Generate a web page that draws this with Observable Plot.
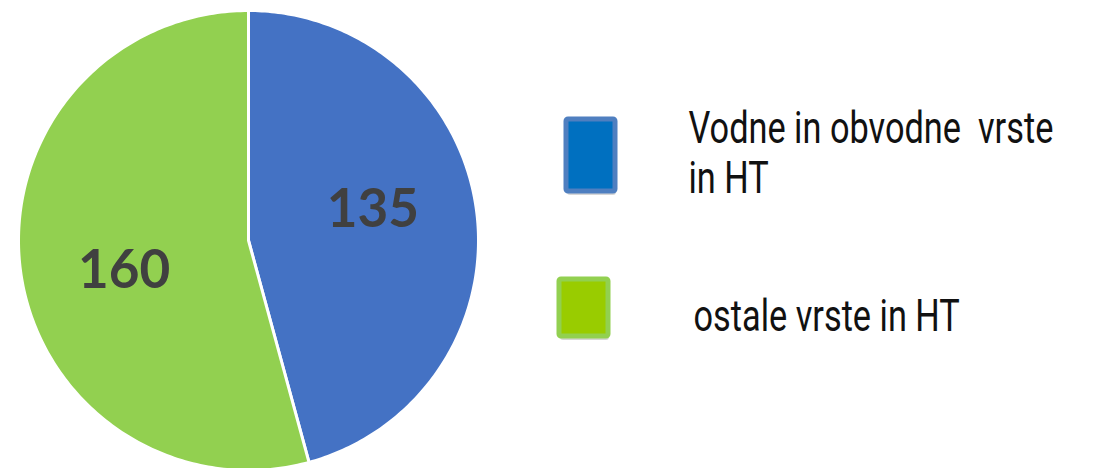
<!DOCTYPE html>
<html>
<head>
<meta charset="utf-8">
<script src="https://cdn.jsdelivr.net/npm/d3@7"></script>
<script src="https://cdn.jsdelivr.net/npm/@observablehq/plot@0.6"></script>
<style>
  html, body { margin: 0; padding: 0; background: #fff; }
  #chart svg text { white-space: pre; }
</style>
</head>
<body>
<div id="chart"></div>
<script>
// ---- data ----
const categories = ["Vodne in obvodne  vrste in HT", "ostale vrste in HT"];
const values = [135, 160];
const legendLines = [["Vodne in obvodne  vrste", "in HT"], ["ostale vrste in HT"]];

// ---- styles / layout ----
const sliceColors = ["#4472C4", "#92D050"];
const swatchStroke = ["#4F7FC0", "#92D050"];
const swatchFill = ["#0070C0", "#99CC00"];
const W = 1094, H = 468;
const cx = 248, cy = 240, R = 230;
const labelR = 0.556 * R, labelAngleShift = -6 * Math.PI / 180;

// pie geometry via d3.pie (start at 12 o'clock, clockwise, data order)
const arcs = d3.pie().sort(null).value(d => d.value)(categories.map((c, i) => ({category: c, value: values[i]})));
const slicePts = [];
arcs.forEach(a => {
  const n = 200;
  slicePts.push({category: a.data.category, x: cx, y: cy});
  for (let k = 0; k <= n; k++) {
    const t = a.startAngle + (a.endAngle - a.startAngle) * k / n;
    slicePts.push({category: a.data.category, x: cx + R * Math.sin(t), y: cy - R * Math.cos(t)});
  }
  slicePts.push({category: a.data.category, x: cx, y: cy});
});
const labels = arcs.map(a => {
  const m = (a.startAngle + a.endAngle) / 2 + labelAngleShift;
  return {label: String(a.data.value), x: cx + labelR * Math.sin(m), y: cy - labelR * Math.cos(m)};
});

// legend layout
const legendRows = [
  {category: categories[0], i: 0, x1: 566, x2: 615, y1: 119, y2: 191, tx: 688, ty: 142, lines: legendLines[0]},
  {category: categories[1], i: 1, x1: 559, x2: 608, y1: 279, y2: 336, tx: 693, ty: 330, lines: legendLines[1]}
];
const legendText = [];
legendRows.forEach(r => r.lines.forEach((l, j) => legendText.push({text: l, x: r.tx, y: r.ty + j * 50})));

const chart = Plot.plot({
  width: W, height: H,
  margin: 0,
  x: {domain: [0, W], range: [0, W], axis: null},
  y: {domain: [0, H], range: [0, H], axis: null},
  color: {domain: categories, range: sliceColors},
  marks: [
    Plot.line(slicePts, {x: "x", y: "y", z: "category", fill: "category", stroke: "white", strokeWidth: 3, curve: "linear", strokeLinejoin: "round"}),
    Plot.text(labels, {x: "x", y: "y", text: "label", fontSize: 53, fontWeight: "bold", fontFamily: "Lato", fill: "#404040", textAnchor: "middle", lineAnchor: "middle"}),
    // swatch shadows
    Plot.rect(legendRows, {x1: d => d.x1 + 1, x2: d => d.x2 + 1, y1: d => d.y1 + 3, y2: d => d.y2 + 4, fill: "#000", fillOpacity: 0.16, rx: 3}),
    Plot.rect(legendRows, {x1: "x1", x2: "x2", y1: "y1", y2: "y2", fill: d => swatchFill[d.i], stroke: d => swatchStroke[d.i], strokeWidth: 5, rx: 2}),
    Plot.text(legendText, {x: "x", y: "y", text: "text", fontSize: 44, fontFamily: "Roboto, sans-serif", fill: "#111", textAnchor: "start", lineAnchor: "bottom", className: "legtext"})
  ]
});
document.getElementById("chart").appendChild(chart);
// condense legend font horizontally (reference uses a condensed face)
const squeeze = 0.78;
chart.querySelectorAll(".legtext text").forEach(t => {
  const tr = t.getAttribute("transform") || "";
  t.setAttribute("transform", tr + ` scale(${squeeze},1)`);
});
</script>
</body>
</html>
